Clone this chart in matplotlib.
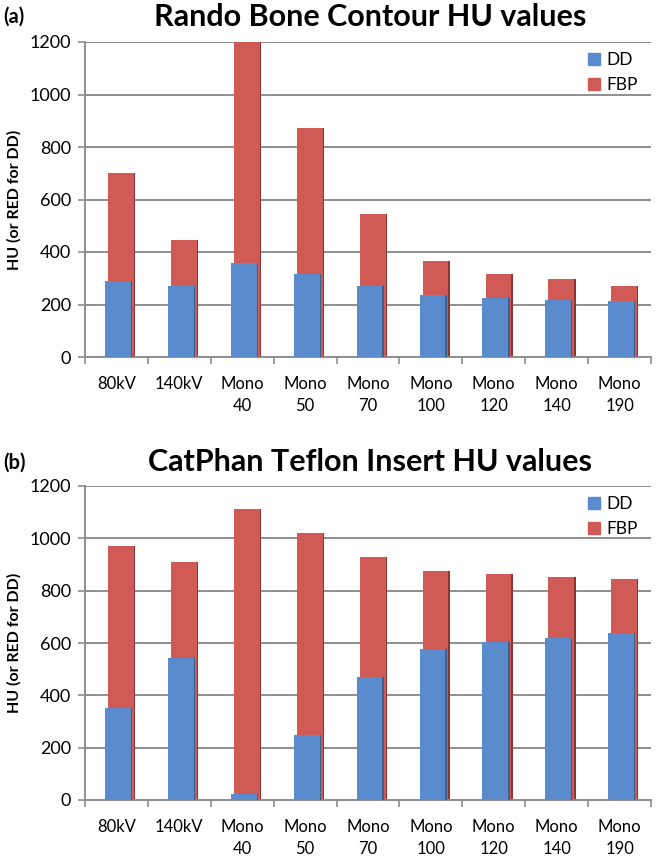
import numpy as np
import matplotlib
matplotlib.use("Agg")
import matplotlib.pyplot as plt
from matplotlib.patches import Patch

plt.rcParams['font.family'] = ['Lato', 'DejaVu Sans']

# categories shared by both panels
categories = ["80kV", "140kV", "Mono\n40", "Mono\n50", "Mono\n70",
              "Mono\n100", "Mono\n120", "Mono\n140", "Mono\n190"]

# (a) Rando bone contour
rando_dd = [290, 272, 358, 316, 271, 236, 223, 218, 213]
rando_fbp = [702, 447, 1200, 872, 544, 367, 316, 297, 269]

# (b) CatPhan teflon insert
catphan_dd = [351, 542, 24, 248, 470, 577, 604, 620, 638]
catphan_fbp = [972, 911, 1112, 1022, 930, 876, 862, 853, 845]

blue = "#5A8BCD"
red = "#D05A56"
blue_dark = "#3B5F8E"
red_dark = "#8E3431"
grid_col = "#8E8E8E"

W, H = 659, 857
fig = plt.figure(figsize=(W / 100, H / 100), dpi=100)


def px_axes(left, top, right, bottom):
    return fig.add_axes([left / W, 1 - bottom / H, (right - left) / W, (bottom - top) / H])


def draw_panel(ax, dd, fbp):
    x = np.arange(len(categories))
    w = 0.41
    # shadow edges (Excel-ish look)
    ax.bar(x + 0.095, fbp, w, color=red_dark, zorder=2, linewidth=0)
    ax.bar(x + 0.075, fbp, w, color=red, zorder=3, linewidth=0)
    ax.bar(x + 0.045, dd, w, color=blue_dark, zorder=4, linewidth=0)
    ax.bar(x + 0.025, dd, w, color=blue, zorder=5, linewidth=0)

    ax.set_xlim(-0.5, len(categories) - 0.5)
    ax.set_ylim(0, 1200)
    ax.set_yticks(range(0, 1201, 200))
    ax.yaxis.grid(True, color=grid_col, linewidth=1.4, zorder=0)
    ax.set_axisbelow(True)

    ax.set_xticks(x)
    ax.set_xticklabels(categories, fontsize=12, linespacing=1.45)
    ax.set_xticks(np.arange(-0.5, len(categories)), minor=True)
    ax.tick_params(axis='x', which='major', length=0, pad=14)
    ax.tick_params(axis='x', which='minor', length=5, color=grid_col, width=1.2)
    ax.tick_params(axis='y', length=5, color=grid_col, width=1.2, labelsize=13, pad=5)

    for s in ['top', 'right']:
        ax.spines[s].set_visible(False)
    for s in ['left', 'bottom']:
        ax.spines[s].set_color(grid_col)
        ax.spines[s].set_linewidth(1.4)

    ax.set_ylabel("HU (or RED for DD)", fontsize=11.5, fontweight='bold', labelpad=6)

    handles = [Patch(color=blue, label="DD"), Patch(color=red, label="FBP")]
    ax.legend(handles=handles, loc='upper left', bbox_to_anchor=(0.87, 1.0),
              frameon=False, fontsize=12.5, handlelength=0.7, handleheight=0.7,
              handletextpad=0.35, labelspacing=0.5, borderpad=0.1)


ax1 = px_axes(85, 42, 651, 357)
draw_panel(ax1, rando_dd, rando_fbp)
ax2 = px_axes(85, 486, 651, 800)
draw_panel(ax2, catphan_dd, catphan_fbp)

fig.text(370 / W, 1 - 17 / H, "Rando Bone Contour HU values", ha='center', va='center',
         fontsize=22, fontweight='bold')
fig.text(370 / W, 1 - 462 / H, "CatPhan Teflon Insert HU values", ha='center', va='center',
         fontsize=22, fontweight='bold')
fig.text(3 / W, 1 - 17 / H, "(a)", ha='left', va='center', fontsize=14.5, fontweight='bold')
fig.text(3 / W, 1 - 463 / H, "(b)", ha='left', va='center', fontsize=14.5, fontweight='bold')

fig.savefig("out.png", dpi=100)
